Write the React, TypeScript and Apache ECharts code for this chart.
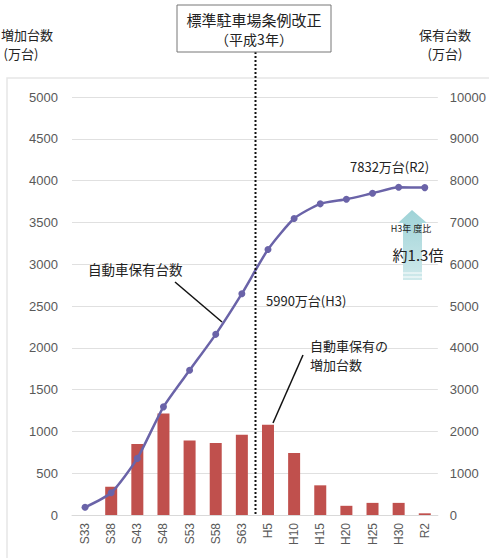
import React, { useEffect, useRef } from "react";
import * as echarts from "echarts";

const categories = ["S33", "S38", "S43", "S48", "S53", "S58", "S63", "H5", "H10", "H15", "H20", "H25", "H30", "R2"];
const increaseValues = [0, 338, 848, 1214, 892, 860, 959, 1080, 742, 355, 110, 145, 145, 20];
const ownershipValues = [184, 533, 1354, 2587, 3463, 4322, 5294, 6352, 7093, 7444, 7553, 7697, 7840, 7832];
const leftTicks = { min: 0, max: 5000, interval: 500 };
const rightTicks = { min: 0, max: 10000, interval: 1000 };

const JP = "'Noto Sans CJK JP', 'Noto Sans', sans-serif";
const NUM = "'Liberation Sans', Arial, sans-serif";

export default function App() {
  const ref = useRef<HTMLDivElement>(null);
  useEffect(() => {
    if (!ref.current) return;
    const chart = echarts.init(ref.current, null, { renderer: "svg" });
    const labelColor = "#595959";
    chart.setOption({
      animation: false,
      backgroundColor: "#ffffff",
      grid: { left: 72, right: 51, top: 97, bottom: 43 },
      xAxis: {
        type: "category",
        data: categories,
        boundaryGap: true,
        axisLine: { show: true, lineStyle: { color: "#d9d9d9" } },
        axisTick: { show: false },
        axisLabel: { rotate: 90, color: labelColor, fontSize: 12, fontFamily: NUM, margin: 8 },
      },
      yAxis: [
        {
          type: "value",
          ...leftTicks,
          axisLine: { show: false },
          axisTick: { show: false },
          splitLine: { lineStyle: { color: "#e0e0e0" } },
          axisLabel: { color: labelColor, fontSize: 13, fontFamily: NUM, margin: 14, formatter: (v: number) => String(v) },
        },
        {
          type: "value",
          ...rightTicks,
          axisLine: { show: false },
          axisTick: { show: false },
          splitLine: { show: false },
          axisLabel: { color: labelColor, fontSize: 13, fontFamily: NUM, margin: 12, formatter: (v: number) => String(v) },
        },
      ],
      series: [
        {
          type: "bar",
          data: increaseValues,
          yAxisIndex: 0,
          barWidth: 12,
          itemStyle: { color: "#c0504d" },
          z: 2,
        },
        {
          type: "line",
          data: ownershipValues,
          yAxisIndex: 1,
          smooth: 0.2,
          symbol: "circle",
          symbolSize: 7,
          lineStyle: { color: "#6a63a8", width: 2.5 },
          itemStyle: { color: "#6a63a8" },
          z: 3,
        },
      ],
    });

    const xS63 = chart.convertToPixel({ xAxisIndex: 0 }, "S63") as number;
    const xH5 = chart.convertToPixel({ xAxisIndex: 0 }, "H5") as number;
    const divX = Math.round((xS63 + xH5) / 2) + 0.5;
    const y0 = chart.convertToPixel({ yAxisIndex: 0 }, 0) as number;

    const txt = (x: number, y: number, text: string, size: number, align = "center", z = 11) => ({
      type: "text",
      x,
      y,
      z,
      style: { text, font: `${size}px ${JP}`, fill: "#222222", align, verticalAlign: "middle" },
    });

    chart.setOption({
      graphic: [
        {
          type: "rect",
          shape: { x: 7, y: 78, width: 520, height: 520 },
          style: { fill: "none", stroke: "#e6e6e6", lineWidth: 1.5 },
          silent: true,
          z: -10,
        },
        {
          type: "line",
          shape: { x1: divX, y1: 52, x2: divX, y2: y0 },
          style: { stroke: "#111111", lineWidth: 2, lineDash: [2, 2] },
          z: 10,
        },
        {
          type: "rect",
          shape: { x: 177, y: 5, width: 154, height: 47 },
          style: { fill: "#ffffff", stroke: "#777777", lineWidth: 1 },
          z: 10,
        },
        txt(254, 19, "標準駐車場条例改正", 15),
        txt(254, 39, "（平成3年）", 14),
        txt(27, 34, "増加台数", 13, "center", 1),
        txt(21, 53, "(万台)", 13, "center", 1),
        txt(445, 34, "保有台数", 13, "center", 1),
        txt(445, 53, "(万台)", 13, "center", 1),
        txt(88, 269, "自動車保有台数", 13.5, "left"),
        {
          type: "line",
          shape: { x1: 175, y1: 282, x2: 222, y2: 322 },
          style: { stroke: "#111111", lineWidth: 1.5 },
          z: 11,
        },
        txt(310, 345, "自動車保有の", 13, "left"),
        txt(310, 364, "増加台数", 13, "left"),
        {
          type: "line",
          shape: { x1: 303, y1: 355, x2: 273, y2: 423 },
          style: { stroke: "#111111", lineWidth: 1.5 },
          z: 11,
        },
        txt(266, 300, "5990万台(H3)", 13, "left"),
        txt(350, 166, "7832万台(R2)", 13, "left"),
        {
          type: "polygon",
          shape: {
            points: [
              [412, 210],
              [427, 223],
              [422, 223],
              [422, 280],
              [403, 280],
              [403, 223],
              [398, 223],
            ],
          },
          style: {
            fill: new echarts.graphic.LinearGradient(0, 0, 0, 1, [
              { offset: 0, color: "#9fd3d7" },
              { offset: 1, color: "#cfe9eb" },
            ]),
          },
          z: 5,
        },
        {
          type: "line",
          shape: { x1: 403, y1: 273, x2: 422, y2: 273 },
          style: { stroke: "#ffffff", lineWidth: 1 },
          z: 6,
        },
        {
          type: "line",
          shape: { x1: 403, y1: 277, x2: 422, y2: 277 },
          style: { stroke: "#ffffff", lineWidth: 1 },
          z: 6,
        },
        txt(411, 228, "H3年 度比", 9, "center", 7),
        txt(418, 254, "約1.3倍", 15, "center", 7),
      ],
    });
    return () => chart.dispose();
  }, []);
  return <div ref={ref} style={{ position: "fixed", left: 0, top: 0, width: 489, height: 558 }} />;
}
